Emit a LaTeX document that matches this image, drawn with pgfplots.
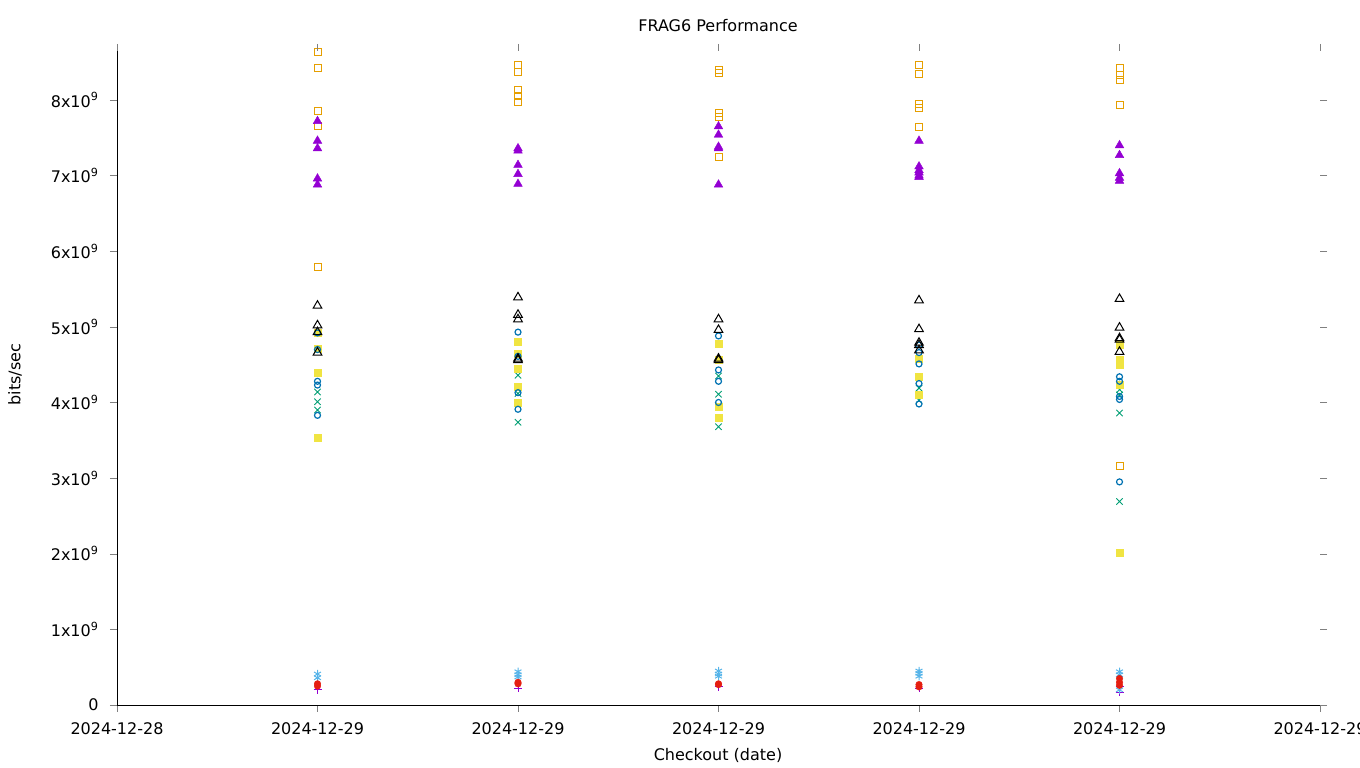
\documentclass[border=0pt]{standalone}
\usepackage{fontspec}
\setmainfont{DejaVu Sans}
\usepackage{pgfplots}
\pgfplotsset{compat=1.18}
\definecolor{gpurple}{HTML}{9400D3}
\definecolor{ggreen}{HTML}{009E73}
\definecolor{gsky}{HTML}{56B4E9}
\definecolor{gorange}{HTML}{E69F00}
\definecolor{gyellow}{HTML}{F0E442}
\definecolor{gblue}{HTML}{0072B2}
\definecolor{gred}{HTML}{E51E10}
\newcommand{\fs}{\fontsize{16}{19}\selectfont}
\begin{document}
\begin{tikzpicture}
\path[use as bounding box] (-117pt,-63pt) rectangle (1243pt,705pt);
\begin{axis}[
  at={(0,0)}, anchor=south west,
  scale only axis, width=1210pt, height=661pt,
  xmin=0, xmax=6.035, ymin=0, ymax=8.74e9,
  axis x line*=bottom, axis y line*=left,
  tick align=outside, major tick length=7pt,
  xtick={0,1,2,3,4,5,6},
  xticklabels={2024-12-28,2024-12-29,2024-12-29,2024-12-29,2024-12-29,2024-12-29,2024-12-29},
  ytick={0,1e9,2e9,3e9,4e9,5e9,6e9,7e9,8e9},
  yticklabels={0,1x10\textsuperscript{9},2x10\textsuperscript{9},3x10\textsuperscript{9},4x10\textsuperscript{9},5x10\textsuperscript{9},6x10\textsuperscript{9},7x10\textsuperscript{9},8x10\textsuperscript{9}},
  scaled y ticks=false,
  tick label style={font=\fs},
  xticklabel style={yshift=-7pt},
  yticklabel style={xshift=-8pt},
  title={FRAG6 Performance},
  title style={font=\fs, at={(axis description cs:0.4967,1)}, anchor=center, yshift=12pt},
  xlabel={Checkout (date)},
  xlabel style={font=\fs, at={(axis description cs:0.4967,0)}, anchor=center, yshift=-50pt},
  ylabel={bits/sec},
  ylabel style={font=\fs, at={(axis description cs:-0.0843,0.5)}, anchor=center},
  every axis plot/.append style={only marks},
  clip=false,
]
% 1 purple plus
\addplot[mark=+, mark size=4pt, mark options={draw=gpurple, line width=1pt}] coordinates {
(1,0.20e9) (2,0.22e9) (3,0.24e9) (4,0.22e9) (5,0.17e9) (5,0.25e9)};
% 2 green x
\addplot[mark=x, mark size=4.5pt, mark options={draw=ggreen, line width=0.9pt}] coordinates {
(1,4.14e9) (1,4.01e9) (1,3.90e9)
(2,4.36e9) (2,4.12e9) (2,3.74e9)
(3,4.35e9) (3,4.11e9) (3,3.96e9) (3,3.68e9)
(4,4.19e9) (4,4.03e9)
(5,4.17e9) (5,4.10e9) (5,3.86e9) (5,2.69e9)};
% 3 sky blue asterisk
\addplot[mark=asterisk, mark size=4pt, mark options={draw=gsky, line width=1pt}] coordinates {
(1,0.41e9) (1,0.36e9)
(2,0.44e9) (2,0.40e9) (2,0.37e9)
(3,0.45e9) (3,0.41e9) (3,0.38e9)
(4,0.45e9) (4,0.42e9) (4,0.38e9)
(5,0.44e9) (5,0.40e9) (5,0.20e9)};
% 4 orange open squares
\addplot[mark=square, mark size=3.5pt, mark options={draw=gorange, line width=1pt}] coordinates {
(1,8.64e9) (1,8.42e9) (1,7.85e9) (1,7.66e9) (1,5.79e9)
(2,8.46e9) (2,8.37e9) (2,8.13e9) (2,8.05e9) (2,7.97e9)
(3,8.40e9) (3,8.36e9) (3,7.83e9) (3,7.77e9) (3,7.24e9)
(4,8.46e9) (4,8.34e9) (4,7.95e9) (4,7.90e9) (4,7.64e9)
(5,8.42e9) (5,8.33e9) (5,8.26e9) (5,7.94e9) (5,3.16e9)};
% 5 yellow filled squares
\addplot[mark=square*, mark size=3.5pt, mark options={draw=gyellow, fill=gyellow, line width=0.5pt}] coordinates {
(1,4.92e9) (1,4.71e9) (1,4.39e9) (1,3.54e9)
(2,4.80e9) (2,4.64e9) (2,4.45e9) (2,4.21e9) (2,4.00e9)
(3,4.77e9) (3,4.56e9) (3,3.94e9) (3,3.80e9)
(4,4.58e9) (4,4.34e9) (4,4.10e9)
(5,4.76e9) (5,4.56e9) (5,4.50e9) (5,4.23e9) (5,2.01e9)};
% 6 blue open circles
\addplot[mark=o, mark size=3pt, mark options={draw=gblue, line width=1.2pt}] coordinates {
(1,4.92e9) (1,4.70e9) (1,4.28e9) (1,4.23e9) (1,3.83e9)
(2,4.93e9) (2,4.61e9) (2,4.13e9) (2,3.91e9)
(3,4.88e9) (3,4.43e9) (3,4.28e9) (3,4.00e9)
(4,4.76e9) (4,4.66e9) (4,4.51e9) (4,4.25e9) (4,3.98e9)
(5,4.34e9) (5,4.28e9) (5,4.08e9) (5,4.04e9) (5,2.95e9)};
% 7 red filled circles
\addplot[mark=*, mark size=3.3pt, mark options={draw=gred, fill=gred}] coordinates {
(1,0.28e9) (1,0.25e9)
(2,0.30e9) (2,0.28e9)
(3,0.28e9) (3,0.27e9)
(4,0.27e9) (4,0.24e9)
(5,0.35e9) (5,0.30e9) (5,0.26e9)};
% 8 black open triangles
\addplot[mark=triangle, mark size=5pt, mark options={draw=black, line width=1pt}] coordinates {
(1,5.28e9) (1,5.02e9) (1,4.93e9) (1,4.66e9)
(2,5.39e9) (2,5.16e9) (2,5.10e9) (2,4.58e9) (2,4.56e9)
(3,5.10e9) (3,4.96e9) (3,4.58e9) (3,4.56e9)
(4,5.35e9) (4,4.97e9) (4,4.79e9) (4,4.76e9) (4,4.69e9)
(5,5.37e9) (5,4.99e9) (5,4.85e9) (5,4.83e9) (5,4.67e9)};
% 9 purple filled triangles
\addplot[mark=triangle*, mark size=5pt, mark options={draw=gpurple, fill=gpurple}] coordinates {
(1,7.72e9) (1,7.46e9) (1,7.36e9) (1,6.96e9) (1,6.88e9)
(2,7.36e9) (2,7.33e9) (2,7.14e9) (2,7.02e9) (2,6.89e9)
(3,7.65e9) (3,7.54e9) (3,7.38e9) (3,7.36e9) (3,6.88e9)
(4,7.46e9) (4,7.12e9) (4,7.07e9) (4,7.04e9) (4,7.00e9) (4,6.98e9)
(5,7.40e9) (5,7.27e9) (5,7.03e9) (5,6.97e9) (5,6.93e9)};
\end{axis}
\begin{axis}[
  at={(0,0)}, anchor=south west,
  scale only axis, width=1210pt, height=661pt,
  xmin=0, xmax=6.035, ymin=0, ymax=8.74e9,
  axis line style={draw=none},
  tick align=inside, major tick length=7pt,
  xtick pos=right, ytick pos=right,
  xtick={0,1,2,3,4,5,6}, xticklabels={},
  ytick={0,1e9,2e9,3e9,4e9,5e9,6e9,7e9,8e9}, yticklabels={},
  scaled y ticks=false,
]
\addplot[draw=none] coordinates {(0,0)};
\end{axis}
\end{tikzpicture}
\end{document}
